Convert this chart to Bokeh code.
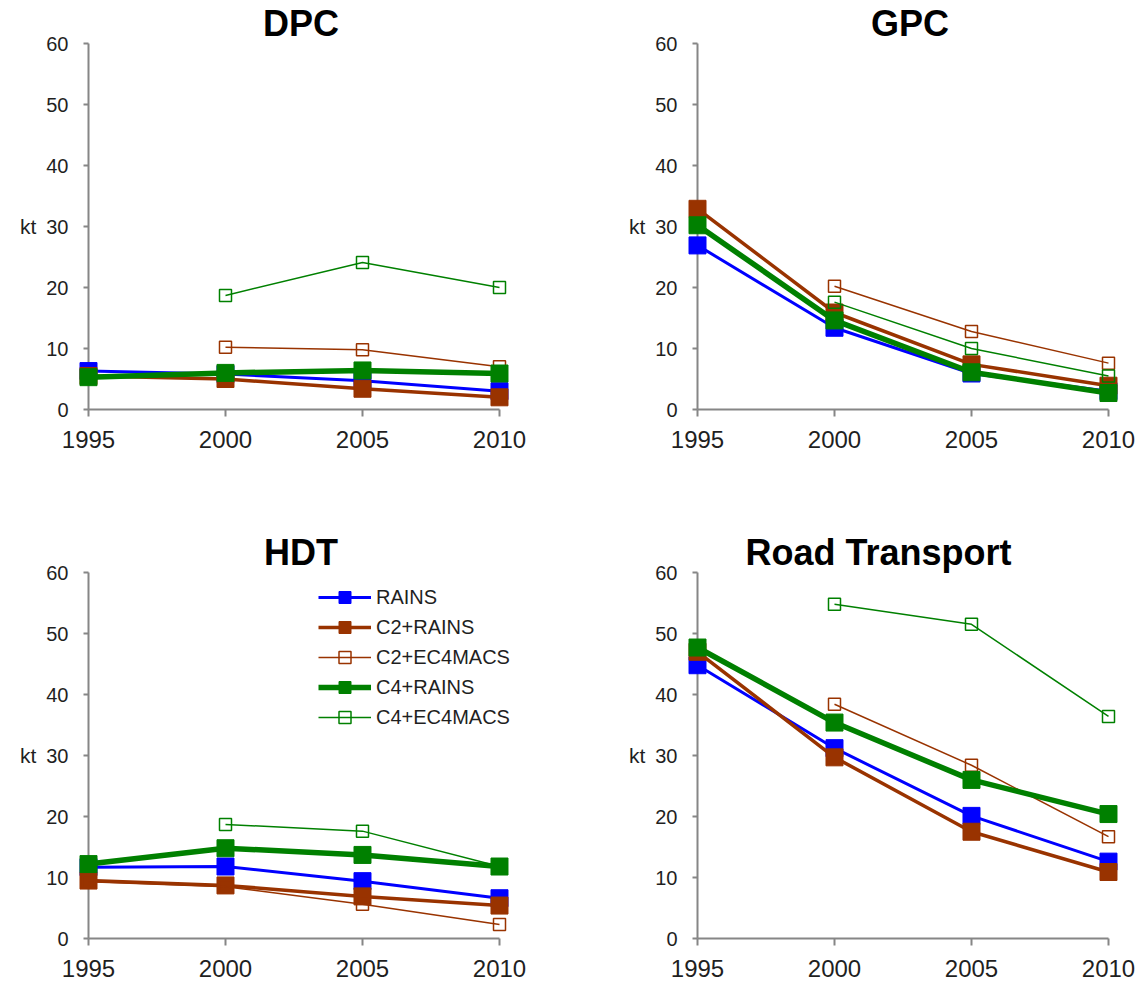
import math
from bokeh.plotting import figure
from bokeh.layouts import column, row
from bokeh.models import Range1d, FixedTicker, Legend, LegendItem
from bokeh.embed import file_html
from bokeh.resources import INLINE

# ---------------- data ----------------
years = [1995, 2000, 2005, 2010]
series_names = ["RAINS", "C2+RAINS", "C2+EC4MACS", "C4+RAINS", "C4+EC4MACS"]
panel_titles = ["DPC", "GPC", "HDT", "Road Transport"]
y_ticks = [0, 10, 20, 30, 40, 50, 60]

dpc_rains = [6.3, 5.8, 4.7, 3.0]
dpc_c2_rains = [5.5, 5.0, 3.4, 2.0]
dpc_c2_ec4macs = [None, 10.2, 9.8, 7.0]
dpc_c4_rains = [5.3, 6.0, 6.4, 5.9]
dpc_c4_ec4macs = [None, 18.7, 24.1, 20.0]

gpc_rains = [26.9, 13.4, 5.9, 3.0]
gpc_c2_rains = [32.9, 15.9, 7.4, 3.9]
gpc_c2_ec4macs = [None, 20.2, 12.8, 7.6]
gpc_c4_rains = [30.2, 14.6, 6.1, 2.7]
gpc_c4_ec4macs = [None, 17.6, 10.0, 5.5]

hdt_rains = [11.7, 11.8, 9.4, 6.6]
hdt_c2_rains = [9.5, 8.7, 6.9, 5.4]
hdt_c2_ec4macs = [9.3, 8.5, 5.6, 2.3]
hdt_c4_rains = [12.2, 14.8, 13.7, 11.8]
hdt_c4_ec4macs = [None, 18.7, 17.6, 11.8]

road_rains = [44.8, 31.2, 20.1, 12.6]
road_c2_rains = [47.0, 29.7, 17.5, 10.9]
road_c2_ec4macs = [None, 38.4, 28.4, 16.7]
road_c4_rains = [47.7, 35.4, 26.0, 20.4]
road_c4_ec4macs = [None, 54.8, 51.5, 36.4]

panels_data = [
    [dpc_rains, dpc_c2_rains, dpc_c2_ec4macs, dpc_c4_rains, dpc_c4_ec4macs],
    [gpc_rains, gpc_c2_rains, gpc_c2_ec4macs, gpc_c4_rains, gpc_c4_ec4macs],
    [hdt_rains, hdt_c2_rains, hdt_c2_ec4macs, hdt_c4_rains, hdt_c4_ec4macs],
    [road_rains, road_c2_rains, road_c2_ec4macs, road_c4_rains, road_c4_ec4macs],
]

# ---------------- styles ----------------
BLUE, BROWN, GREEN = "#0000FF", "#993300", "#008000"
styles = [
    dict(color=BLUE, lw=3.0, filled=True),
    dict(color=BROWN, lw=3.5, filled=True),
    dict(color=BROWN, lw=1.5, filled=False),
    dict(color=GREEN, lw=5.5, filled=True),
    dict(color=GREEN, lw=1.5, filled=False),
]
AXIS_COLOR = "#868686"
TEXT_COLOR = "#1f1f1f"
FONT = "Liberation Sans"


def to_float(vals):
    return [float("nan") if v is None else float(v) for v in vals]


def make_panel(idx, width, height, b_left, b_right, b_top, b_bottom, with_legend=False):
    p = figure(
        width=width, height=height,
        x_range=Range1d(1995, 2010.511), y_range=Range1d(0, 60),
        output_backend="svg", toolbar_location=None,
        min_border_left=b_left, min_border_right=b_right,
        min_border_top=b_top, min_border_bottom=b_bottom,
    )
    p.outline_line_color = None
    p.grid.visible = False
    p.background_fill_color = "white"
    p.border_fill_color = "white"

    # title
    p.title.text = panel_titles[idx]
    p.title.text_font = FONT
    p.title.text_font_size = "36px"
    p.title.text_font_style = "bold"
    p.title.text_color = "black"
    p.title.standoff = 0
    if idx == 3:
        p.title.align = "left"
        p.title.offset = 48
    else:
        p.title.align = "center"

    # x axis
    xa = p.xaxis[0]
    xa.ticker = FixedTicker(ticks=years)
    xa.bounds = (1995, 2010)
    xa.axis_line_color = AXIS_COLOR
    xa.axis_line_width = 2
    xa.major_tick_line_color = AXIS_COLOR
    xa.major_tick_line_width = 2
    xa.major_tick_out = 7
    xa.major_tick_in = 0
    xa.minor_tick_line_color = None
    xa.major_label_standoff = 14
    xa.major_label_text_font = FONT
    xa.major_label_text_font_size = "24px"
    xa.major_label_text_color = TEXT_COLOR

    # y axis
    ya = p.yaxis[0]
    ya.ticker = FixedTicker(ticks=y_ticks)
    ya.bounds = (0, 60)
    ya.axis_line_color = AXIS_COLOR
    ya.axis_line_width = 2
    ya.major_tick_line_color = AXIS_COLOR
    ya.major_tick_line_width = 2
    ya.major_tick_out = 5
    ya.major_tick_in = 0
    ya.minor_tick_line_color = None
    ya.major_label_standoff = 15
    ya.major_label_text_font = FONT
    ya.major_label_text_font_size = "20px"
    ya.major_label_text_color = TEXT_COLOR
    ya.axis_label = "kt"
    ya.axis_label_orientation = "horizontal"
    ya.axis_label_standoff = 7
    ya.axis_label_text_font = FONT
    ya.axis_label_text_font_size = "21px"
    ya.axis_label_text_font_style = "normal"
    ya.axis_label_text_color = TEXT_COLOR

    items = []
    for s, name, vals in zip(styles, series_names, panels_data[idx]):
        yv = to_float(vals)
        lr = p.line(years, yv, line_color=s["color"], line_width=s["lw"], level="overlay")
        if s["filled"]:
            sr = p.scatter(years, yv, marker="square", size=17, level="overlay",
                           fill_color=s["color"], line_color=s["color"], line_width=1)
        else:
            sr = p.scatter(years, yv, marker="square", size=12, level="overlay",
                           fill_color=None, line_color=s["color"], line_width=1.5)
        items.append(LegendItem(label=name, renderers=[lr, sr]))

    if with_legend:
        lg = Legend(
            items=items, location=(230, 206),
            border_line_color=None, background_fill_alpha=0,
            padding=0, margin=0, spacing=0,
            glyph_width=53, glyph_height=30, label_height=30,
            label_standoff=5, label_text_font=FONT,
            label_text_font_size="20px", label_text_color=TEXT_COLOR,
        )
        p.add_layout(lg)
    return p


p1 = make_panel(0, 570, 493, 88, 57, 43, 84)
p2 = make_panel(1, 573, 493, 127, 21, 43, 84)
p3 = make_panel(2, 570, 494, 88, 57, 79, 49, with_legend=True)
p4 = make_panel(3, 573, 494, 127, 21, 79, 49)

layout = column(row(p1, p2), row(p3, p4))

open("out.html", "w").write(file_html(layout, INLINE))
